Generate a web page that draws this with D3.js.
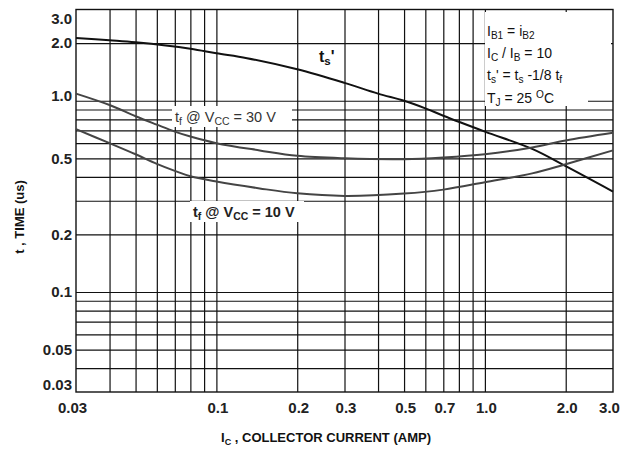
<!DOCTYPE html>
<html>
<head>
<meta charset="utf-8">
<script src="https://cdn.jsdelivr.net/npm/d3@7"></script>
<style>
  body { margin: 0; background: #fff; }
  svg { display: block; font-family: "Liberation Sans", Arial, sans-serif; }
</style>
</head>
<body>
<div id="app"></div>
<script>
// collector current (A) and switching times (us)
const tsCurrent = [0.03, 0.04, 0.05, 0.08, 0.1, 0.13, 0.2, 0.3, 0.4, 0.5, 0.6, 0.7, 1.0, 1.5, 2.0, 3.0];
const tsTime = [2.13, 2.07, 2.02, 1.87, 1.77, 1.67, 1.46, 1.24, 1.09, 1.0, 0.913, 0.835, 0.69, 0.56, 0.455, 0.335];

const tfCurrent = [0.03, 0.04, 0.05, 0.06, 0.07, 0.08, 0.1, 0.145, 0.2, 0.3, 0.5, 0.7, 1.0, 1.5, 2.0, 3.0];
const tf30Time = [1.09, 0.95, 0.83, 0.75, 0.69, 0.65, 0.60, 0.55, 0.515, 0.50, 0.495, 0.505, 0.525, 0.57, 0.62, 0.68];
const tf10Time = [0.71, 0.60, 0.525, 0.468, 0.43, 0.403, 0.378, 0.348, 0.328, 0.318, 0.327, 0.343, 0.375, 0.417, 0.466, 0.55];

const xTicks = [0.03, 0.1, 0.2, 0.3, 0.5, 0.7, 1.0, 2.0, 3.0];
const xTickLabels = ['0.03', '0.1', '0.2', '0.3', '0.5', '0.7', '1.0', '2.0', '3.0'];
const yTicks = [0.03, 0.05, 0.1, 0.2, 0.5, 1.0, 2.0, 3.0];
const yTickLabels = ['0.03', '0.05', '0.1', '0.2', '0.5', '1.0', '2.0', '3.0'];

const xGrid = [0.04, 0.05, 0.06, 0.07, 0.08, 0.09, 0.1, 0.2, 0.3, 0.4, 0.5, 0.6, 0.7, 0.8, 0.9, 1.0, 2.0];
const yGrid = [0.04, 0.05, 0.06, 0.07, 0.08, 0.09, 0.1, 0.2, 0.3, 0.4, 0.5, 0.6, 0.7, 0.8, 0.9, 1.0, 2.0];

const W = 634, H = 452;
const pLeft = 76, pRight = 613, pTop = 9.5, pBottom = 392;

const svg = d3.select('#app').append('svg')
  .attr('width', W)
  .attr('height', H);

const x = d3.scaleLog().domain([0.03, 3]).range([pLeft, pRight]);
const y = d3.scaleLog().domain([0.03, 3]).range([pBottom, pTop]);

//////////GRID//////////
const gx = svg.append('g')
  .attr('transform', `translate(0,${pBottom})`)
  .call(d3.axisBottom(x).tickValues(xGrid).tickSize(-(pBottom - pTop)).tickFormat(''));
gx.select('.domain').remove();
gx.selectAll('line').attr('stroke', '#111').attr('stroke-width', 1.2);

const gy = svg.append('g')
  .attr('transform', `translate(${pLeft},0)`)
  .call(d3.axisLeft(y).tickValues(yGrid).tickSize(-(pRight - pLeft)).tickFormat(''));
gy.select('.domain').remove();
gy.selectAll('line').attr('stroke', '#111').attr('stroke-width', 1.2);

// frame
svg.append('rect')
  .attr('x', pLeft).attr('y', pTop)
  .attr('width', pRight - pLeft).attr('height', pBottom - pTop)
  .attr('fill', 'none').attr('stroke', '#111').attr('stroke-width', 1.4);

//////////TICK LABELS//////////
const xl = svg.append('g')
  .attr('transform', `translate(0,${pBottom})`)
  .call(d3.axisBottom(x).tickValues(xTicks).tickSize(0).tickPadding(10)
    .tickFormat((d, i) => xTickLabels[i]));
xl.select('.domain').remove();
xl.selectAll('text')
  .attr('font-size', 15).attr('font-weight', 'bold').attr('fill', '#222')
  .attr('font-family', '"Liberation Sans", Arial, sans-serif')
  .attr('dx', d => d === 0.03 ? -4 : d === 3 ? -4 : 1);

const yl = svg.append('g')
  .attr('transform', `translate(${pLeft},0)`)
  .call(d3.axisLeft(y).tickValues(yTicks).tickSize(0).tickPadding(4)
    .tickFormat((d, i) => yTickLabels[i]));
yl.select('.domain').remove();
yl.selectAll('text')
  .attr('font-size', 15).attr('font-weight', 'bold').attr('fill', '#222')
  .attr('font-family', '"Liberation Sans", Arial, sans-serif')
  .attr('dy', d => d === 3 ? '0.95em' : d === 0.03 ? '-0.15em' : d === 1 ? '0' : '0.32em');

// axis titles
const xt = svg.append('text')
  .attr('x', 326).attr('y', 442)
  .attr('text-anchor', 'middle')
  .attr('font-size', 13).attr('font-weight', 'bold').attr('fill', '#111');
xt.append('tspan').text('I');
xt.append('tspan').attr('font-size', 9).attr('dy', 3).text('C');
xt.append('tspan').attr('dy', -3).text(' , COLLECTOR CURRENT (AMP)');

svg.append('text')
  .attr('transform', 'translate(24,217) rotate(-90)')
  .attr('text-anchor', 'middle')
  .attr('font-size', 13).attr('font-weight', 'bold').attr('fill', '#111')
  .text('t , TIME (us)');

//////////ANNOTATION BOX//////////
svg.append('rect').attr('x', 485).attr('y', 12).attr('width', 126).attr('height', 82).attr('fill', '#fff');
svg.append('rect').attr('x', 485).attr('y', 90).attr('width', 103).attr('height', 16).attr('fill', '#fff');

function rich(xp, yp, parts, size, weight) {
  const t = svg.append('text')
    .attr('x', xp).attr('y', yp)
    .attr('font-size', size).attr('font-weight', weight || 'normal').attr('fill', '#111');
  let shift = 0;
  parts.forEach(([txt, kind]) => {
    const target = kind === 'sub' ? 3 : kind === 'sup' ? -5 : 0;
    t.append('tspan')
      .attr('dy', target - shift)
      .attr('font-size', kind ? size * 0.72 : size)
      .text(txt);
    shift = target;
  });
  return t;
}

rich(487, 36, [['I'], ['B1', 'sub'], [' = i'], ['B2', 'sub']], 14);
rich(487, 58, [['I'], ['C', 'sub'], [' / I'], ['B', 'sub'], [' = 10']], 14);
rich(487, 80, [['t'], ['s', 'sub'], ["' = t"], ['s', 'sub'], [' -1/8  t'], ['f', 'sub']], 14);
rich(487, 103, [['T'], ['J', 'sub'], [' = 25 '], ['O', 'sup'], ['C']], 14);

//////////CURVE LABELS//////////
svg.append('rect').attr('x', 172).attr('y', 106).attr('width', 120).attr('height', 21).attr('fill', '#fff');
svg.append('rect').attr('x', 190).attr('y', 201).attr('width', 114).attr('height', 21).attr('fill', '#fff');
svg.append('rect').attr('x', 316).attr('y', 47).attr('width', 22).attr('height', 21).attr('fill', '#fff');

rich(175, 122, [['t'], ['f', 'sub'], [' @ V'], ['CC', 'sub'], [' = 30 V']], 14.5).attr('fill', '#333');
rich(193, 217, [['t'], ['f', 'sub'], [' @ V'], ['CC', 'sub'], [' = 10 V']], 14.5, 'bold').attr('fill', '#222');
rich(319, 62, [['t'], ['s', 'sub'], ["'"]], 16, 'bold');

//////////CURVES//////////
const line = d3.line()
  .x(d => x(d[0]))
  .y(d => y(d[1]))
  .curve(d3.curveCatmullRom.alpha(0.5));

const series = [
  { cur: tsCurrent, val: tsTime, color: '#111' },
  { cur: tfCurrent, val: tf30Time, color: '#444' },
  { cur: tfCurrent, val: tf10Time, color: '#444' }
];

svg.append('g').selectAll('path')
  .data(series)
  .join('path')
  .attr('d', s => line(d3.zip(s.cur, s.val)))
  .attr('fill', 'none')
  .attr('stroke', s => s.color)
  .attr('stroke-width', 2);
</script>
</body>
</html>
